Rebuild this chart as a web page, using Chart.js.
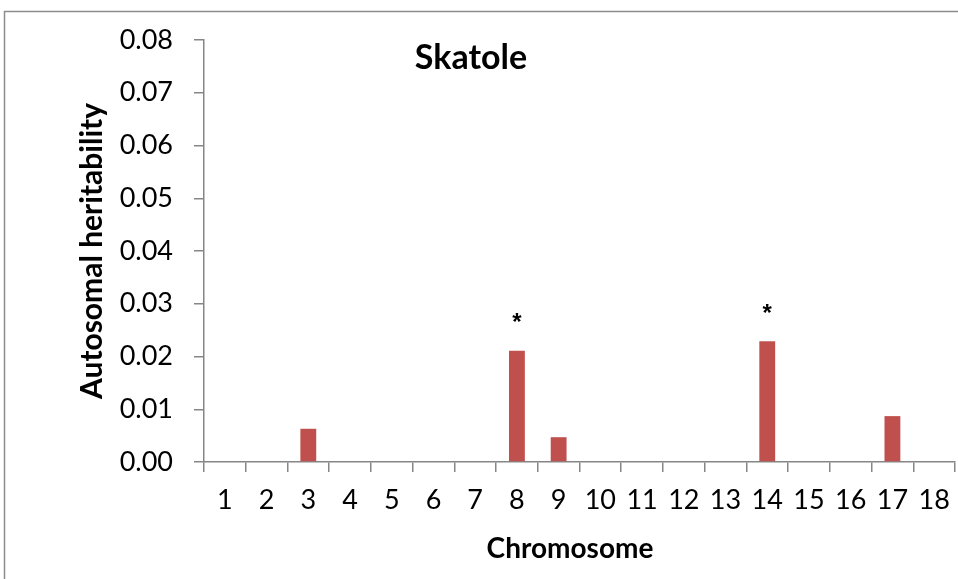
<!DOCTYPE html>
<html>
<head>
<meta charset="utf-8">
<script src="https://cdn.jsdelivr.net/npm/chart.js@4/dist/chart.umd.min.js"></script>
<style>
  html, body { margin: 0; padding: 0; background: #ffffff; }
  #wrap { position: relative; width: 958px; height: 579px; }
  canvas { display: block; }
</style>
</head>
<body>
<div id="wrap"><canvas id="c" width="958" height="579"></canvas></div>
<script>
const chromosomes = ['1','2','3','4','5','6','7','8','9','10','11','12','13','14','15','16','17','18'];
const heritability = [0, 0, 0.0063, 0, 0, 0, 0, 0.0211, 0.0047, 0, 0, 0, 0, 0.0229, 0, 0, 0.0087, 0];
const significance = ['', '', '', '', '', '', '', '*', '', '', '', '', '', '*', '', '', '', ''];
const chartTitle = 'Skatole';
const xTitle = 'Chromosome';
const yTitle = 'Autosomal heritability';

const FONT = 'Lato, "Open Sans", sans-serif';
const AXIS = '#868686';

const decor = {
  id: 'decor',
  beforeDraw(chart) {
    const ctx = chart.ctx;
    ctx.save();
    ctx.strokeStyle = '#8c8c8c';
    ctx.lineWidth = 1.5;
    ctx.strokeRect(4.5, 11.5, 1200, 1200);
    ctx.restore();
  },
  afterDatasetsDraw(chart) {
    const ctx = chart.ctx;
    const meta = chart.getDatasetMeta(0);
    ctx.save();
    ctx.fillStyle = '#000';
    ctx.textAlign = 'center';
    ctx.textBaseline = 'middle';
    ctx.font = 'bold 24px "Liberation Sans", sans-serif';
    meta.data.forEach((bar, i) => {
      if (significance[i]) {
        ctx.fillText(significance[i], bar.x, bar.y - 27);
      }
    });
    ctx.font = 'bold 34px ' + FONT;
    ctx.fillText(chartTitle, 471, 58);
    ctx.font = 'bold 28px ' + FONT;
    ctx.fillText(xTitle, 570, 549);
    ctx.restore();
  }
};

new Chart(document.getElementById('c'), {
  type: 'bar',
  data: {
    labels: chromosomes,
    datasets: [{
      data: heritability,
      backgroundColor: '#C0504D',
      borderWidth: 0,
      categoryPercentage: 1,
      barPercentage: 0.38
    }]
  },
  options: {
    responsive: false,
    animation: false,
    devicePixelRatio: 1,
    layout: { padding: { left: 70, top: 40, right: 3, bottom: 0 } },
    plugins: { legend: { display: false }, tooltip: { enabled: false }, title: { display: false } },
    scales: {
      x: {
        offset: true,
        grid: { offset: true, drawOnChartArea: false, drawTicks: true, tickLength: 10, color: AXIS, lineWidth: 1.5 },
        border: { display: true, color: AXIS, width: 1.5 },
        ticks: { color: '#000', font: { family: FONT, size: 27 }, padding: 12, maxRotation: 0, autoSkip: false },
        title: { display: false, text: xTitle },
        afterFit(scale) { scale.height = 117; scale.paddingLeft = 0; scale.paddingRight = 0; }
      },
      y: {
        min: 0, max: 0.08,
        grid: { drawOnChartArea: false, drawTicks: true, tickLength: 10, color: AXIS, lineWidth: 1.5 },
        border: { display: true, color: AXIS, width: 1.5 },
        ticks: { stepSize: 0.01, color: '#000', font: { family: FONT, size: 27 }, padding: 21,
                 callback: v => Number(v).toFixed(2) },
        title: { display: true, text: yTitle, color: '#000', font: { family: FONT, size: 30, weight: 'bold' }, padding: { top: 4, bottom: 0 } },
        afterFit(scale) { scale.width = 134; }
      }
    }
  },
  plugins: [decor]
});
</script>
</body>
</html>
